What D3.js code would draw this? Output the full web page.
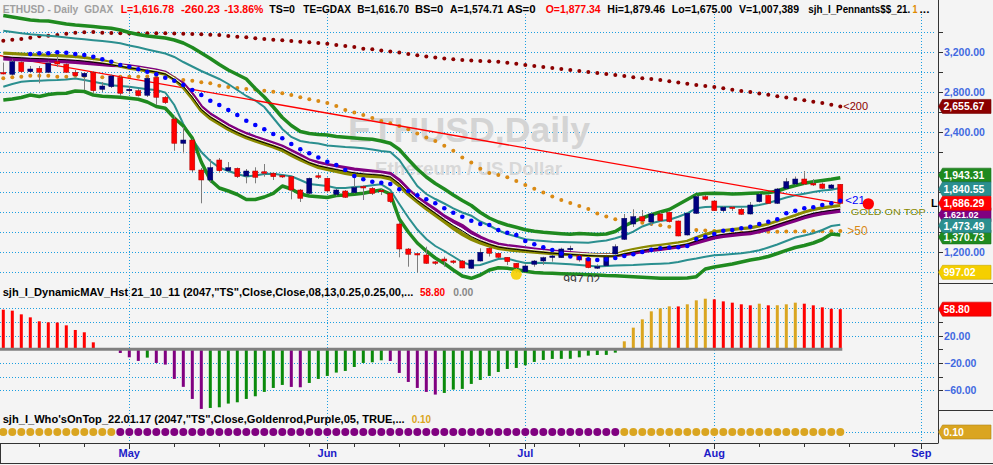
<!DOCTYPE html>
<html><head><meta charset="utf-8">
<script src="https://cdn.jsdelivr.net/npm/d3@7"></script>
<style>
html,body{margin:0;padding:0;background:#f4f4f4;overflow:hidden}
svg{display:block}
text{font-family:Arial,"Liberation Sans",sans-serif}
</style></head><body>
<svg id="c" width="993" height="465"></svg>
<script>
// ---------- DATA ----------
const dates = ["04-12","04-13","04-14","04-15","04-18","04-19","04-20","04-21","04-22","04-25","04-26","04-27","04-28","04-29",
"05-02","05-03","05-04","05-05","05-06","05-09","05-10","05-11","05-12","05-13","05-16","05-17","05-18","05-19","05-20","05-23","05-24","05-25","05-26","05-27","05-30","05-31",
"06-01","06-02","06-03","06-06","06-07","06-08","06-09","06-10","06-13","06-14","06-15","06-16","06-17","06-20","06-21","06-22","06-23","06-24","06-27","06-28","06-29","06-30",
"07-01","07-04","07-05","07-06","07-07","07-08","07-11","07-12","07-13","07-14","07-15","07-18","07-19","07-20","07-21","07-22","07-25","07-26","07-27","07-28","07-29",
"08-01","08-02","08-03","08-04","08-05","08-08","08-09","08-10","08-11","08-12","08-15","08-16","08-17","08-18","08-19"];
const open = [2990,2977,3097,3003,3037,2997,3104,3077,2997,2953, 2997,2827,2853,2943,2815,2813,2767,2943,2747,2530, 2287,2320,2020,1920,2120,2013,2037,1960,2010,1997, 1987,1962,1953,1820,1787,1960,1937,1777,1810,1793, 1850,1837,1812,1787,1480,1230,1180,1170,1098,1130, 1104,1110,1037,1110,1237,1187,1147,1087,1003,1077, 1110,1150,1143,1228,1163,1137,1043,1063,1180,1327, 1480,1553,1500,1580,1597,1510,1370,1587,1753,1710, 1613,1645,1627,1580,1703,1767,1687,1837,1880,1930, 1887,1880,1837,1877.34];
const high = [3095,3127,3110,3060,3060,3105,3160,3090,3020,3000, 3010,2900,2975,2960,2860,2830,2955,2955,2760,2560, 2450,2330,2040,2130,2140,2100,2045,2030,2047,2080, 1997,1975,1960,1830,1945,1990,1945,1830,1820,1960, 1865,1850,1830,1795,1500,1240,1190,1253,1110,1153, 1120,1120,1125,1237,1253,1190,1150,1090,1077,1120, 1153,1170,1243,1263,1170,1143,1077,1150,1277,1580, 1627,1620,1590,1600,1605,1515,1590,1770,1770,1720, 1660,1660,1640,1700,1790,1775,1840,1940,1955,2010, 1930,1895,1880,1879.46];
const low = [2975,2965,2990,2995,2887,2990,3050,2990,2950,2820, 2787,2800,2840,2760,2780,2755,2750,2670,2680,2213, 2187,2000,1687,1890,1990,2000,1940,1887,1887,1953, 1920,1940,1727,1700,1780,1930,1790,1760,1740,1785, 1720,1770,1770,1690,1147,1053,993,1080,1070,1053, 1080,1037,1030,1105,1155,1140,1070,997.02,1000,1053, 1070,1103,1143,1210,1103,1037,1030,1055,1175,1320, 1450,1500,1460,1500,1495,1357,1365,1580,1710,1610, 1600,1610,1570,1575,1695,1680,1680,1830,1870,1870, 1860,1830,1825,1675];
const close = [2985,3103,3003,3030,2997,3087,3080,2997,2963,2987, 2813,2860,2960,2787,2825,2763,2937,2747,2693,2287, 2320,2020,1920,2043,2013,2043,1953,2010,1947,1993, 1953,1953,1820,1737,1937,1950,1810,1820,1747,1843, 1845,1787,1808,1703,1230,1177,1175,1087,1090,1110, 1102,1040,1120,1197,1187,1147,1103,1043,1060,1110, 1143,1155,1230,1232,1120,1043,1048,1147,1253,1537, 1553,1510,1580,1513,1503,1360,1587,1753,1727,1613, 1647,1638,1577,1670,1777,1687,1830,1903,1930,1880, 1870,1837,1870,1686.29];

const sma200 = [3313,3323,3330,3343,3357,3363,3370,3383,3393,3397, 3400,3393,3390,3387,3385,3385,3387,3387,3387,3385, 3383,3380,3377,3373,3370,3360,3353,3347,3337,3330, 3323,3317,3310,3303,3297,3290,3283,3270,3260,3250, 3233,3227,3215,3205,3195,3180,3167,3155,3145,3135, 3127,3120,3115,3110,3107,3103,3093,3083,3070,3060, 3050,3040,3030,3020,3010,3000,2990,2980,2970,2960, 2947,2937,2930,2920,2907,2895,2883,2870,2860,2850, 2837,2823,2810,2800,2785,2772,2758,2745,2731,2717, 2703,2689,2672,2655.67];
const sma50 = [2937,2947,2953,2963,2963,2963,2953,2953,2963,2960, 2947,2947,2947,2953,2953,2953,2955,2950,2945,2940, 2920,2913,2897,2887,2863,2850,2840,2830,2825,2813, 2803,2787,2770,2747,2727,2710,2690,2660,2620,2595, 2570,2540,2510,2487,2460,2427,2385,2345,2310,2263, 2213,2145,2095,2033,1990,1970,1947,1910,1870,1833, 1795,1755,1720,1690,1660,1630,1585,1555,1527,1513, 1500,1493,1480,1467,1453,1440,1430,1420,1415,1410, 1405,1403,1403,1403,1403,1403,1403,1405,1405,1407, 1407,1407,1408,1410];
const sma21 = [null,null,null,3180,3187,3187,3197,3193,3180,3170, 3153,3127,3103,3070,3053,3027,3003,2977,2943,2913, 2870,2820,2770,2713,2670,2620,2570,2513,2470,2427, 2380,2337,2280,2227,2187,2145,2103,2070,2020,1960, 1927,1903,1893,1880,1827,1810,1767,1727,1687,1637, 1593,1553,1513,1480,1470,1420,1393,1370,1310,1277, 1247,1220,1185,1155,1140,1127,1120,1125,1140,1160, 1177,1200,1223,1237,1245,1247,1260,1330,1353,1380, 1413,1420,1437,1453,1480,1503,1527,1587,1613,1637, 1647,1670,1687,1713];
const greenUp = [3565,3550,3535,3520,3513,3510,3495,3480,3470,3463, 3455,3445,3437,3420,3395,3375,3360,3350,3340,3320, 3290,3245,3190,3135,3075,3020,2975,2930,2835,2750, 2650,2545,2465,2405,2385,2375,2370,2355,2347,2340, 2333,2327,2310,2287,2225,2125,2030,1950,1885,1830, 1770,1715,1665,1595,1540,1500,1470,1447,1423,1407, 1397,1390,1383,1377,1385,1380,1375,1380,1405,1460, 1503,1540,1573,1600,1625,1675,1725,1775,1785,1787, 1785,1780,1783,1787,1790,1793,1810,1840,1865,1887, 1903,1915,1927,1943.31];
const greenLo = [2720,2730,2745,2770,2755,2775,2785,2787,2810,2805, 2770,2757,2753,2747,2737,2727,2700,2655,2637,2540, 2460,2340,2100,1920,1840,1810,1775,1725,1725,1750, 1787,1860,1830,1780,1760,1753,1745,1765,1770,1777, 1787,1805,1820,1780,1530,1400,1290,1210,1140,1085, 1020,960,937,970,1020,1043,1037,1025,1007,995, 990,987,983,980,977,973,970,965,962,957, 953,947,942,937,937,937,940,953,1030,1050, 1065,1080,1100,1120,1135,1155,1185,1217,1245,1265, 1290,1325,1380,1370.73];
const tealUp = [3413,3400,3387,3377,3370,3362,3355,3345,3335,3327, 3318,3310,3300,3287,3265,3247,3225,3205,3185,3150, 3100,3055,3010,2970,2930,2880,2820,2760,2715,2650, 2540,2430,2350,2310,2295,2285,2265,2257,2250,2245, 2237,2225,2210,2200,2120,1990,1860,1780,1730,1685, 1637,1595,1563,1505,1465,1417,1380,1355,1327,1317, 1310,1303,1300,1297,1295,1293,1305,1315,1337,1365, 1403,1455,1487,1510,1522,1553,1587,1637,1650,1653, 1653,1653,1653,1655,1670,1690,1717,1745,1767,1783, 1800,1815,1823,1840.55];
const tealLo = [2853,2880,2903,2910,2913,2917,2920,2925,2935,2920, 2903,2885,2867,2860,2853,2840,2827,2820,2795,2670, 2480,2330,2200,2110,2045,2010,1980,1955,1965,1980, 1983,1970,1957,1920,1880,1870,1860,1840,1840,1850, 1855,1867,1877,1820,1680,1545,1425,1330,1260,1210, 1155,1100,1065,1070,1100,1130,1135,1110,1090,1093, 1090,1087,1082,1077,1070,1063,1055,1060,1065,1067, 1070,1075,1080,1083,1087,1100,1120,1135,1153,1167, 1173,1180,1187,1200,1217,1245,1275,1310,1345,1365, 1387,1420,1460,1473.49];
const olive = [3185,3180,3175,3170,3167,3163,3160,3155,3150,3140, 3125,3110,3090,3063,3043,3030,3015,3000,2982,2930, 2850,2740,2615,2540,2485,2430,2385,2345,2313,2283, 2253,2220,2170,2125,2085,2050,2030,2010,1990,1975, 1965,1960,1955,1935,1865,1780,1705,1635,1570,1505, 1440,1380,1330,1295,1265,1240,1227,1217,1210,1202, 1195,1188,1183,1178,1174,1170,1167,1166,1166,1200, 1220,1237,1253,1263,1275,1287,1303,1338,1370,1397, 1410,1420,1430,1437,1455,1473,1503,1530,1560,1593, 1620,1637,1650,1660];
const purple = [3135,3130,3125,3120,3117,3113,3110,3105,3100,3093, 3085,3077,3070,3067,3057,3045,3030,3015,2993,2935, 2880,2775,2650,2575,2520,2465,2420,2380,2347,2317, 2287,2255,2210,2165,2115,2090,2070,2055,2040,2025, 2015,2005,1995,1980,1915,1820,1740,1680,1620,1555, 1505,1460,1395,1345,1305,1275,1260,1250,1237,1225, 1215,1205,1197,1190,1182,1175,1170,1168,1167,1177, 1193,1207,1220,1230,1242,1255,1270,1295,1320,1345, 1360,1370,1380,1387,1407,1430,1460,1490,1517,1547, 1570,1587,1600,1612];
const trendIdx = [-0.4, 93];
const trendVal = [3165, 1686.29];
const hist = [58,56.6,51.2,46.8,41,39.5,39.2,35.1,28.3,24.9,10.2,1.6,1.4,
 -5.4,-11.7,-17,-12.2,-20,-22.4,-43.4,-55,-72.7,-87.3,
 -85.9,-84.9,-79.5,-77.6,-72.7,-68.8,-62.4,-56.6,-52.2,
 -55.1,-55.6,
 -49.3,-43.4,-39,-34.1,-31.7,-25.9,-20,-19,-16.1,
 -17.1,-34.6,-47.8,-56.6,-62.4,-66.3,
 -63.9,-59,-58,-50.7,-44.9,-39,-33.2,-28.8,-27.3,-23.4,-18.5,-15.6,-14.1,-14.0,-13.9,-11.7,-9.3,-8.3,-8.2,-4.9,
 11.7,31.7,43.9,55.6,60,62.9,62.8,65.9,71.7,74.1,73.2,70.2,68.3,65.9,64.4,66.8,64.4,64.5,65.9,68.3,66.8,64.4,61.5,59.4,58.8];
const whoValue = 0.10;
const lowMark = {idx:57, value:997.02};

const monthLabels = ["May","Jun","Jul","Aug","Sep"];
const monthIdx = [14,36,58,79,102];
const weekIdx = [4,9,19,24,29,34,39,44,49,54,59,64,69,74,84,89,94,99];
const priceTicks = [1000,1200,1400,1600,1800,2000,2200,2400,2600,2800,3000,3200,3400];
const priceLabels = [1200,1600,2000,2400,2800,3200];
const histTicks = [60,40,20,0,-20,-40,-60];
const histLabels = [60,20,-20,-60];
const histGrid = [60,40,20,-20,-40,-60];

const flagKeys  = ["sma200","greenUp","tealUp","purple","close","greenLo","tealLo","low"];
const flagValues = [2655.67,1943.31,1840.55,1612,1686.29,1370.73,1473.49,997.02];
const flagTexts  = ["2,655.67","1,943.31","1,840.55","1,621.02","1,686.29","1,370.73","1,473.49","997.02"];

// ---------- STYLE ----------
const C = {bg:"#f4f4f4", grid:"#1b9ee0", sma200:"#8b0000", sma50:"#d98a14", sma21:"#0000ff",
  greenUp:"#1f8a1f", greenLo:"#1f8a1f", tealUp:"#2b8f8f", tealLo:"#2b8f8f", olive:"#8a8a00", purple:"#800080",
  close:"#ff0000", low:"#f5cf00", up:"#000080", down:"#ff0000", axis:"#333", axisText:"#4169e1",
  gold:"#daa520", histRed:"#ff0000", histGreen:"#0a8a0a", histPurple:"#800080"};
// pixel nudges for stacked axis flags (layout only)
const flagNudge = {greenUp:-2.5, tealUp:1, purple:4, tealLo:1, greenLo:2};
const flagFont = {purple:9};

const svg = d3.select("#c");
svg.append("rect").attr("width",993).attr("height",465).attr("fill",C.bg);

const x = d3.scaleLinear().domain([0,93]).range([3.3,840.3]);
const yP = d3.scaleLinear().domain([3720,890]).range([0,283]);
const yH = d3.scaleLinear().domain([97.1,-88.9]).range([283,410]);
const yD = d3.scaleLinear().domain([0.2,0]).range([410,454]);
const px = v => Math.round(v)+0.5;

svg.append("clipPath").attr("id","pc").append("rect").attr("x",0).attr("y",0).attr("width",937).attr("height",282);

// ---------- GRID ----------
const grid = svg.append("g").attr("stroke",C.grid).attr("stroke-dasharray","1,2").attr("stroke-width",1);
priceTicks.forEach(v=>grid.append("line").attr("x1",0).attr("x2",935).attr("y1",px(yP(v))).attr("y2",px(yP(v))));
histGrid.forEach(v=>grid.append("line").attr("x1",0).attr("x2",935).attr("y1",px(yH(v))).attr("y2",px(yH(v))));
grid.append("line").attr("x1",0).attr("x2",935).attr("y1",px(yD(whoValue))).attr("y2",px(yD(whoValue)));
monthIdx.forEach(i=>grid.append("line").attr("x1",px(x(i))).attr("x2",px(x(i))).attr("y1",14).attr("y2",443));

// ---------- WATERMARK ----------
svg.append("text").attr("x",348).attr("y",142).attr("font-size",35).attr("font-weight","bold")
  .attr("fill","#d4d4d4").attr("textLength",242).attr("lengthAdjust","spacingAndGlyphs").text("ETHUSD,Daily");
svg.append("text").attr("x",375).attr("y",175).attr("font-size",18).attr("font-weight","bold")
  .attr("fill","#d8d8d8").attr("textLength",187).attr("lengthAdjust","spacingAndGlyphs").text("Ethereum / US Dollar");

// ---------- PRICE PANEL ----------
const pp = svg.append("g").attr("clip-path","url(#pc)");
const idx = d3.range(open.length);
const line = arr => d3.line().defined(i=>arr[i]!=null).x(i=>x(i)).y(i=>yP(arr[i])).curve(d3.curveLinear)(idx);

pp.selectAll(".d200").data(idx).join("circle").attr("cx",i=>x(i)).attr("cy",i=>yP(sma200[i])).attr("r",2).attr("fill",C.sma200);
pp.selectAll(".d50").data(idx).join("circle").attr("cx",i=>x(i)).attr("cy",i=>yP(sma50[i])).attr("r",2).attr("fill",C.sma50);

[["tealUp",tealUp],["tealLo",tealLo]].forEach(([k,a])=>pp.append("path").attr("d",line(a)).attr("fill","none").attr("stroke",C[k]).attr("stroke-width",2));
[["greenUp",greenUp],["greenLo",greenLo]].forEach(([k,a])=>pp.append("path").attr("d",line(a)).attr("fill","none").attr("stroke",C[k]).attr("stroke-width",3.5).attr("stroke-linejoin","round"));

pp.append("line").attr("x1",x(trendIdx[0])).attr("y1",yP(trendVal[0])).attr("x2",x(trendIdx[1])).attr("y2",yP(trendVal[1]))
  .attr("stroke","#ff0000").attr("stroke-width",1.3);

pp.append("path").attr("d",line(purple)).attr("fill","none").attr("stroke",C.purple).attr("stroke-width",4);
pp.append("path").attr("d",line(olive)).attr("fill","none").attr("stroke",C.olive).attr("stroke-width",4);
const mid = idx.map(i=>(olive[i]+purple[i])/2);
pp.append("path").attr("d",line(mid)).attr("fill","none").attr("stroke","#ffffff").attr("stroke-width",1).attr("transform","translate(0,-0.8)");
pp.append("path").attr("d",line(mid)).attr("fill","none").attr("stroke","#000000").attr("stroke-width",1).attr("transform","translate(0,0.8)");

// candles
const cg = pp.append("g");
idx.forEach(i=>{
  const up = close[i] >= open[i];
  cg.append("line").attr("x1",px(x(i))).attr("x2",px(x(i))).attr("y1",yP(high[i])).attr("y2",yP(low[i])).attr("stroke","#7d7d7d").attr("stroke-width",1);
  const y0 = yP(Math.max(open[i],close[i])), y1 = yP(Math.min(open[i],close[i]));
  const h = Math.max(1.5, y1-y0);
  cg.append("rect").attr("x",x(i)-2.5).attr("y",h===1.5? (y0+y1)/2-0.75 : y0).attr("width",5).attr("height",h)
    .attr("fill", up? C.up : C.down).attr("stroke", up? "#00005a" : "#b00000").attr("stroke-width",0.5);
});

pp.selectAll(".d21").data(idx.filter(i=>sma21[i]!=null)).join("circle").attr("cx",i=>x(i)).attr("cy",i=>yP(sma21[i])).attr("r",2.3).attr("fill",C.sma21);

// low marker
pp.append("circle").attr("cx",x(lowMark.idx)).attr("cy",yP(lowMark.value)+2).attr("r",5.5).attr("fill","#f7d000").attr("opacity",0.9);
pp.append("text").attr("x",x(lowMark.idx)+47).attr("y",283.5).attr("font-size",12).attr("fill","#333").text("997.02");

// annotations
const last = open.length-1;
svg.append("text").attr("x",x(last)+3).attr("y",yP(sma200[last])+4).attr("font-size",11).attr("fill",C.sma200).text("<200");
svg.append("text").attr("x",x(last)+5).attr("y",yP(sma21[last])+3).attr("font-size",11.5).attr("fill",C.sma21).text("<21");
svg.append("text").attr("x",x(last)+7).attr("y",yP(sma50[last])+4).attr("font-size",12).attr("fill",C.sma50).text(">50");
svg.append("circle").attr("cx",x(last)+28).attr("cy",yP(close[last])+0.5).attr("r",5.7).attr("fill","#ff0000");
svg.append("text").attr("x",x(last)+10.5).attr("y",yP(olive[last])+9).attr("font-size",9.5).attr("fill",C.olive)
  .attr("textLength",75).attr("lengthAdjust","spacingAndGlyphs").text("GOLD ON TOP");
svg.append("text").attr("x",931).attr("y",yP(close[last])+4).attr("font-size",11).attr("font-weight","bold").attr("fill","#000").text("L");

// ---------- HISTOGRAM ----------
const hg = svg.append("g");
idx.forEach(i=>{
  const v = hist[i], prev = i>0 ? hist[i-1] : Infinity;
  const rising = v > prev;
  const col = v >= 0 ? (rising ? C.gold : C.histRed) : (rising ? C.histGreen : C.histPurple);
  const y0 = yH(Math.max(0,v)), y1 = yH(Math.min(0,v));
  hg.append("rect").attr("x",x(i)-1.5).attr("width",3).attr("y",y0).attr("height",Math.max(0.5,y1-y0)).attr("fill",col);
});
hg.append("line").attr("x1",0).attr("x2",x(last)+2).attr("y1",yH(0)).attr("y2",yH(0)).attr("stroke","#808080").attr("stroke-width",3);

// ---------- WHO'S ON TOP ----------
svg.selectAll(".who").data(idx).join("circle").attr("cx",i=>x(i)).attr("cy",yD(whoValue)).attr("r",4)
  .attr("fill",i=> olive[i] > purple[i] ? C.gold : C.purple);

// ---------- AXES / FRAME ----------
const ax = svg.append("g").attr("stroke",C.axis).attr("stroke-width",1);
ax.append("line").attr("x1",938.5).attr("x2",938.5).attr("y1",0).attr("y2",443);
ax.append("line").attr("x1",938).attr("x2",993).attr("y1",283.5).attr("y2",283.5);
ax.append("line").attr("x1",938).attr("x2",993).attr("y1",410.5).attr("y2",410.5);
ax.append("line").attr("x1",0).attr("x2",938.5).attr("y1",443.5).attr("y2",443.5);
ax.append("line").attr("x1",0).attr("x2",993).attr("y1",463.5).attr("y2",463.5);
ax.append("line").attr("x1",0.5).attr("x2",0.5).attr("y1",443).attr("y2",464);
priceTicks.forEach(v=>ax.append("line").attr("x1",938).attr("x2",943).attr("y1",px(yP(v))).attr("y2",px(yP(v))));
histTicks.forEach(v=>ax.append("line").attr("x1",938).attr("x2",943).attr("y1",px(yH(v))).attr("y2",px(yH(v))));
monthIdx.forEach(i=>ax.append("line").attr("x1",px(x(i))).attr("x2",px(x(i))).attr("y1",443).attr("y2",449));
weekIdx.forEach(i=>ax.append("line").attr("x1",px(x(i))).attr("x2",px(x(i))).attr("y1",443).attr("y2",447));

const fmt = d3.format(",.2f");
// axis labels that sit under a value flag are covered (not shown), as in the source chart
const priceFlagY = flagKeys.map((k,j)=>yP(flagValues[j])+(flagNudge[k]||0));
const histFlagY = [yH(hist[last])];
priceLabels.filter(v=>!priceFlagY.some(f=>Math.abs(f-yP(v))<12))
  .forEach(v=>svg.append("text").attr("x",944).attr("y",yP(v)+4).attr("font-size",10.5).attr("font-weight","bold").attr("fill",C.axisText).text(fmt(v)));
histLabels.filter(v=>!histFlagY.some(f=>Math.abs(f-yH(v))<12))
  .forEach(v=>svg.append("text").attr("x",944).attr("y",yH(v)+4).attr("font-size",10.5).attr("font-weight","bold").attr("fill",C.axisText).text(fmt(v)));
monthIdx.forEach((i,k)=>svg.append("text").attr("x",x(i)).attr("y",457).attr("text-anchor","middle").attr("font-size",11).attr("font-weight","bold").attr("fill","#1c1cc8").text(monthLabels[k]));

// flags
function flag(yc, txt, col, fs){
  const g = svg.append("g");
  g.append("path").attr("d",`M938.5,${yc} L942.5,${yc-7} L991,${yc-7} L991,${yc+7} L942.5,${yc+7} Z`)
    .attr("fill",col).attr("stroke",d3.color(col).darker(0.6)).attr("stroke-width",0.6);
  g.append("text").attr("x",943.5).attr("y",yc+(fs?3.3:4)).attr("font-size",fs||10.5).attr("font-weight","bold").attr("fill","#fff").text(txt);
}
flagKeys.forEach((k,j)=>flag(priceFlagY[j], flagTexts[j], C[k], flagFont[k]));
flag(yH(hist[last]), fmt(hist[last]), C.histRed);
flag(yD(whoValue), fmt(whoValue), C.gold);

// ---------- HEADER & PANEL TITLES ----------
function seg(txt,col,x0,w,y,fs){
  svg.append("text").attr("x",x0).attr("y",y).attr("font-size",fs||10.5).attr("font-weight","bold").attr("fill",col)
    .attr("textLength",w).attr("lengthAdjust","spacingAndGlyphs").text(txt);
}
[["ETHUSD - Daily","#a0a0a0",2.7,75.6],["GDAX","#a0a0a0",84.3,29],["L=1,616.78","#ff0000",120.7,53.3],
 ["-260.23","#ff0000",181,39],["-13.86%","#ff0000",224.3,39],["TS=0","#000",269.3,25.7],["TE=GDAX","#000",303.3,47.7],
 ["B=1,616.70","#000",357.3,51.7],["BS=0","#000",415,28.3],["A=1,574.71","#000",450,53.3],["AS=0","#000",506.7,29],
 ["O=1,877.34","#ff0000",545.7,55],["Hi=1,879.46","#000",607.3,57.7],["Lo=1,675.00","#000",671.7,60.6],
 ["V=1,007,389","#000",739,60]].forEach(s=>seg(s[0],s[1],s[2],s[3],12.5));
seg("sjh_I_Pennants$$_21.","#000",808.3,102,12.5,10);
seg("1","#e08a00",912.5,5,12.5);
seg("...","#000",919.5,10,12.5);

seg('sjh_I_DynamicMAV_Hst 21_10_11 (2047,"TS",Close,Close,08,13,0.25,0.25,00,...',"#000",2.7,410.6,296);
seg("58.80","#ff0000",420,25,296);
seg("0.00","#888888",453.3,20,296);
seg('sjh_I_Who\'sOnTop_22.01.17 (2047,"TS",Close,Goldenrod,Purple,05, TRUE,...',"#000",2.7,402,423);
seg("0.10",C.gold,411.7,19.3,423);
</script>
</body></html>
